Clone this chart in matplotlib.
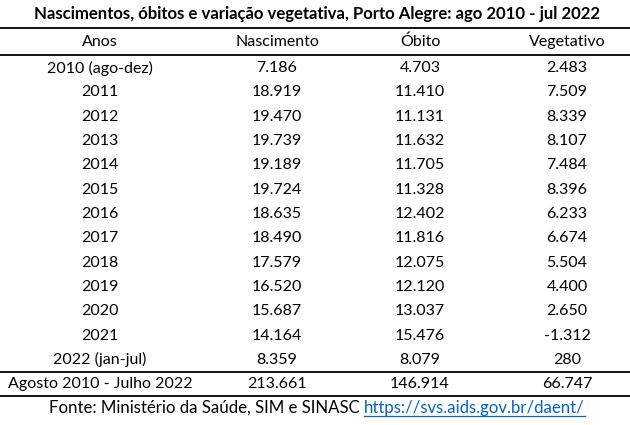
import matplotlib.pyplot as plt

titulo = "Nascimentos, óbitos e variação vegetativa, Porto Alegre: ago 2010 - jul 2022"
colunas = ["Anos", "Nascimento", "Óbito", "Vegetativo"]
anos = ["2010 (ago-dez)", "2011", "2012", "2013", "2014", "2015", "2016",
        "2017", "2018", "2019", "2020", "2021", "2022 (jan-jul)"]
nascimento = ["7.186", "18.919", "19.470", "19.739", "19.189", "19.724", "18.635",
              "18.490", "17.579", "16.520", "15.687", "14.164", "8.359"]
obito = ["4.703", "11.410", "11.131", "11.632", "11.705", "11.328", "12.402",
         "11.816", "12.075", "12.120", "13.037", "15.476", "8.079"]
vegetativo = ["2.483", "7.509", "8.339", "8.107", "7.484", "8.396", "6.233",
              "6.674", "5.504", "4.400", "2.650", "-1.312", "280"]
total = ["Agosto 2010 - Julho 2022", "213.661", "146.914", "66.747"]
fonte = "Fonte: Ministério da Saúde, SIM e SINASC "
link = "https://svs.aids.gov.br/daent/"

plt.rcParams['font.family'] = ['Lato', 'DejaVu Sans']
fs = 11.5

fig = plt.figure(figsize=(6.3, 4.25), dpi=100)
ax = fig.add_axes([0, 0, 1, 1])
ax.set_xlim(0, 630)
ax.set_ylim(425, 0)
ax.axis('off')

xcol = [100, 277, 420, 567]

ax.text(317, 14, titulo, ha='center', va='center', fontsize=12.1, fontweight='bold')
for y in [28, 55, 372, 396]:
    ax.axhline(y, color='black', lw=1.3)

for x, c in zip(xcol, colunas):
    ax.text(x, 42, c, ha='center', va='center', fontsize=fs)

for i in range(len(anos)):
    y = 68 + i * 24.33
    for x, v in zip(xcol, [anos[i], nascimento[i], obito[i], vegetativo[i]]):
        ax.text(x, y, v, ha='center', va='center', fontsize=fs)

for x, v in zip(xcol, total):
    ax.text(x, 384, v, ha='center', va='center', fontsize=fs)

# fonte + link, centred together
r = fig.canvas.get_renderer()
t1 = ax.text(0, 408, fonte, ha='left', va='center', fontsize=12.1)
t2 = ax.text(0, 408, link, ha='left', va='center', fontsize=12.1, color='#0563C1')
w1 = t1.get_window_extent(r).width
w2 = t2.get_window_extent(r).width
x0 = 317 - (w1 + w2) / 2
t1.set_x(x0)
t2.set_x(x0 + w1)
ax.plot([x0 + w1, x0 + w1 + w2], [416, 416], color='#0563C1', lw=0.9)

fig.savefig("out.png", dpi=100)
